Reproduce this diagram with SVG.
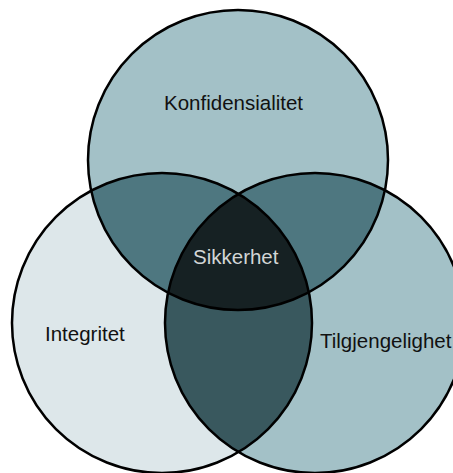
<svg xmlns="http://www.w3.org/2000/svg" width="453" height="473" viewBox="0 0 453 473">
  <style>
    .label { font-family: "Liberation Sans", Arial, sans-serif; font-size: 20.5px; fill: #111; }
    .center { fill: #d2d6d6; }
    .edge { fill: none; stroke: #000; stroke-width: 2.5; }
  </style>
  <defs>
    <circle id="cA" cx="238" cy="160" r="150"/>
    <circle id="cB" cx="162" cy="323" r="150"/>
    <circle id="cC" cx="315" cy="323" r="150"/>
    <clipPath id="clipA"><use href="#cA"/></clipPath>
    <clipPath id="clipB"><use href="#cB"/></clipPath>
  </defs>
  <rect width="453" height="473" fill="#fff"/>

  <!-- base circles -->
  <g id="konfidensialitet">
    <use href="#cA" fill="#a3c1c7"/>
  </g>
  <g id="integritet">
    <use href="#cB" fill="#dde7ea"/>
  </g>
  <g id="tilgjengelighet">
    <use href="#cC" fill="#a3c1c7"/>
  </g>

  <!-- pairwise overlaps -->
  <g id="overlaps">
    <use href="#cB" fill="#4e7780" clip-path="url(#clipA)"/>
    <use href="#cC" fill="#4e7780" clip-path="url(#clipA)"/>
    <use href="#cC" fill="#39585e" clip-path="url(#clipB)"/>
    <g clip-path="url(#clipB)">
      <use href="#cC" fill="#162123" clip-path="url(#clipA)"/>
    </g>
  </g>

  <!-- outlines -->
  <g id="outlines">
    <use href="#cA" class="edge"/>
    <use href="#cB" class="edge"/>
    <use href="#cC" class="edge"/>
  </g>

  <g id="labels">
    <text class="label" x="164" y="109.5">Konfidensialitet</text>
    <text class="label" x="45" y="341">Integritet</text>
    <text class="label" x="320" y="347.5">Tilgjengelighet</text>
    <text class="label center" x="193" y="263.5">Sikkerhet</text>
  </g>
</svg>
